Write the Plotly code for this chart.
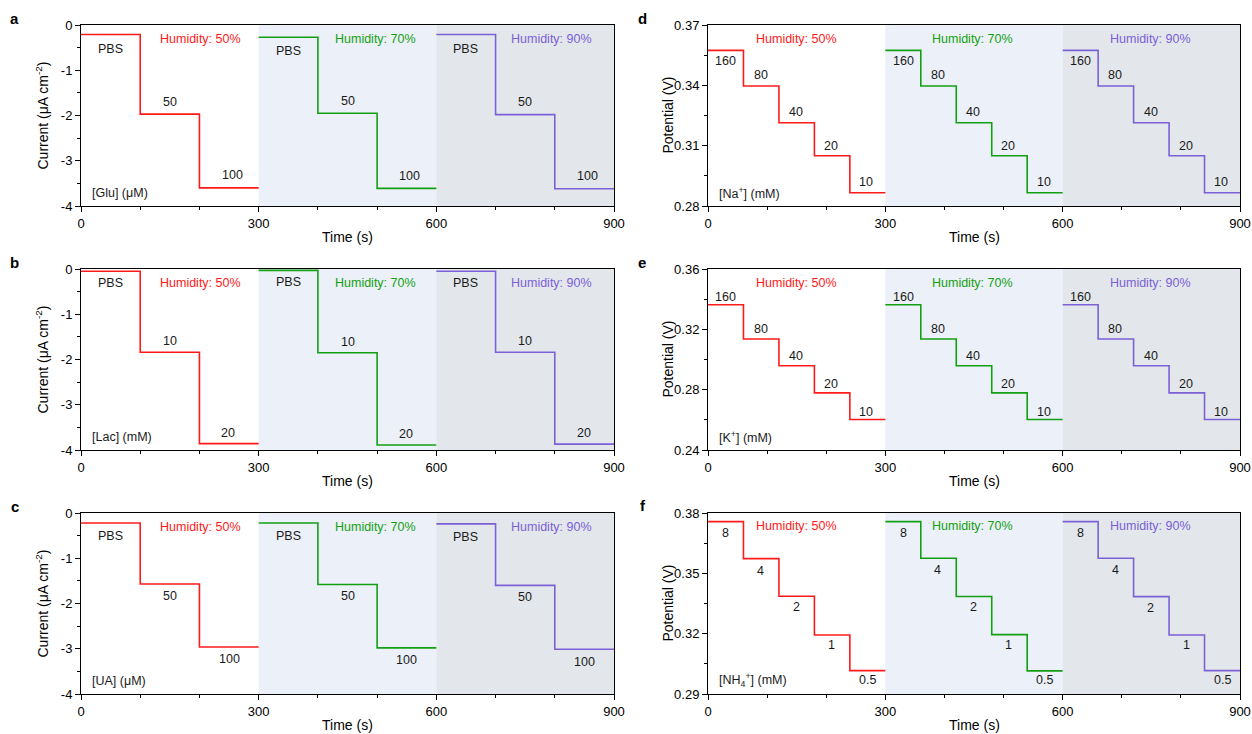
import plotly.graph_objects as go

# ---------------- data ----------------
humidity = ["Humidity: 50%", "Humidity: 70%", "Humidity: 90%"]
colors = ["#FF1A1A", "#12A012", "#7C60D8"]

time_ticks = [0, 300, 600, 900]
time_ticktext = ["0", "300", "600", "900"]

# panel a: glucose (step every 100 s)
glu_labels = ["PBS", "50", "100"]
glu_levels = [[-0.21, -1.97, -3.60], [-0.27, -1.95, -3.61], [-0.21, -1.98, -3.62]]
# panel b: lactate
lac_labels = ["PBS", "10", "20"]
lac_levels = [[-0.05, -1.84, -3.86], [-0.03, -1.85, -3.89], [-0.05, -1.84, -3.87]]
# panel c: uric acid
ua_labels = ["PBS", "50", "100"]
ua_levels = [[-0.22, -1.57, -2.96], [-0.22, -1.58, -2.98], [-0.24, -1.60, -3.01]]
current_ticks = [0, -1, -2, -3, -4]
current_ticktext = ["0", "-1", "-2", "-3", "-4"]

# panel d: sodium (step every 60 s)
na_labels = ["160", "80", "40", "20", "10"]
na_levels = [[0.3574, 0.3397, 0.3214, 0.3050, 0.2866],
             [0.3574, 0.3397, 0.3214, 0.3050, 0.2866],
             [0.3574, 0.3397, 0.3214, 0.3050, 0.2866]]
na_ticks = [0.28, 0.31, 0.34, 0.37]
na_ticktext = ["0.28", "0.31", "0.34", "0.37"]
# panel e: potassium
k_labels = ["160", "80", "40", "20", "10"]
k_levels = [[0.3363, 0.3136, 0.2959, 0.2779, 0.2602],
            [0.3363, 0.3136, 0.2959, 0.2779, 0.2602],
            [0.3363, 0.3136, 0.2959, 0.2779, 0.2602]]
k_ticks = [0.24, 0.28, 0.32, 0.36]
k_ticktext = ["0.24", "0.28", "0.32", "0.36"]
# panel f: ammonium
nh4_labels = ["8", "4", "2", "1", "0.5"]
nh4_levels = [[0.3757, 0.3573, 0.3386, 0.3193, 0.3016],
              [0.3757, 0.3575, 0.3385, 0.3195, 0.3015],
              [0.3757, 0.3575, 0.3384, 0.3193, 0.3016]]
nh4_ticks = [0.29, 0.32, 0.35, 0.38]
nh4_ticktext = ["0.29", "0.32", "0.35", "0.38"]

FONT = "Liberation Sans, Arial, sans-serif"
W, H = 1252, 734
LBL = 12.5

# panel definitions (layout, not data)
panels = [
    dict(letter="a", labels=glu_labels, levels=glu_levels, dt=100, yr=[-4, 0], ticks=current_ticks,
         ticktext=current_ticktext, minor=0.5, ytitle="Current (μA cm<sup>-2</sup>)", tshift=-39,
         unit="[Glu] (μM)", unit_y=-3.71, hum_y=-0.31, hum_x=[201, 198, 195],
         lab_x=[50, 150, 255], lab_dy=[-14, 12.5, 12.5], col=0, row=0),
    dict(letter="b", labels=lac_labels, levels=lac_levels, dt=100, yr=[-4, 0], ticks=current_ticks,
         ticktext=current_ticktext, minor=0.5, ytitle="Current (μA cm<sup>-2</sup>)", tshift=-39,
         unit="[Lac] (mM)", unit_y=-3.71, hum_y=-0.31, hum_x=[201, 198, 195],
         lab_x=[50, 150, 249], lab_dy=[-12, 11, 11], col=0, row=1),
    dict(letter="c", labels=ua_labels, levels=ua_levels, dt=100, yr=[-4, 0], ticks=current_ticks,
         ticktext=current_ticktext, minor=0.5, ytitle="Current (μA cm<sup>-2</sup>)", tshift=-39,
         unit="[UA] (μM)", unit_y=-3.71, hum_y=-0.30, hum_x=[201, 198, 195],
         lab_x=[50, 150, 250], lab_dy=[-13.5, -12, -12.5], col=0, row=2),
    dict(letter="d", labels=na_labels, levels=na_levels, dt=60, yr=[0.28, 0.37], ticks=na_ticks,
         ticktext=na_ticktext, minor=0.015, ytitle="Potential (V)", tshift=-41,
         unit="[Na<sup>+</sup>] (mM)", unit_y=0.2866, hum_y=0.363, hum_x=[150, 147, 149],
         lab_x=[30, 89, 149, 208, 268], lab_dy=[-11, 10.5, 11, 10, 11], col=1, row=0),
    dict(letter="e", labels=k_labels, levels=k_levels, dt=60, yr=[0.24, 0.36], ticks=k_ticks,
         ticktext=k_ticktext, minor=0.02, ytitle="Potential (V)", tshift=-41,
         unit="[K<sup>+</sup>] (mM)", unit_y=0.2488, hum_y=0.3505, hum_x=[150, 147, 149],
         lab_x=[30, 89, 149, 208, 268], lab_dy=[8, 9.5, 9.5, 9, 7.5], col=1, row=1),
    dict(letter="f", labels=nh4_labels, levels=nh4_levels, dt=60, yr=[0.29, 0.38], ticks=nh4_ticks,
         ticktext=nh4_ticktext, minor=0.015, ytitle="Potential (V)", tshift=-41,
         unit="[NH<sub>4</sub><sup>+</sup>] (mM)", unit_y=0.2968, hum_y=0.3733, hum_x=[150, 147, 149],
         lab_x=[30, 89, 149, 209, 270], lab_dy=[-11.5, -12, -11, -10, -9.5], col=1, row=2),
]

# pixel geometry of the plot areas
col_px = [(81, 614), (708, 1240)]
row_px = [(25, 206), (269, 450), (513, 694)]
letter_px = [[(14, 19), (14, 262), (15, 506)], [(642, 18), (642, 262), (643, 505)]]

fig = go.Figure()
layout = dict(width=W, height=H, margin=dict(l=0, r=0, t=0, b=0, autoexpand=False),
              template="none",
              paper_bgcolor="white", plot_bgcolor="white", showlegend=False,
              font=dict(family=FONT, size=13, color="black"))
shapes = []
annotations = []

for i, p in enumerate(panels):
    n = i + 1
    xa = "x" if n == 1 else f"x{n}"
    ya = "y" if n == 1 else f"y{n}"
    xkey = "xaxis" if n == 1 else f"xaxis{n}"
    ykey = "yaxis" if n == 1 else f"yaxis{n}"
    x0, x1 = col_px[p["col"]]
    y0, y1 = row_px[p["row"]]
    layout[xkey] = dict(domain=[x0 / W, x1 / W], anchor=ya, range=[0, 900], automargin=False,
                        tickvals=time_ticks, ticktext=time_ticktext,
                        ticks="outside", ticklen=5, tickcolor="black", tickwidth=1,
                        minor=dict(dtick=100, tick0=0, ticks="outside", ticklen=3, tickcolor="black"),
                        showline=True, linecolor="black", linewidth=1, mirror=True,
                        showgrid=False, zeroline=False, tickfont=dict(size=13))
    layout[ykey] = dict(domain=[1 - y1 / H, 1 - y0 / H], anchor=xa, range=p["yr"], automargin=False,
                        tickvals=p["ticks"], ticktext=p["ticktext"],
                        ticks="outside", ticklen=5, tickcolor="black", tickwidth=1,
                        minor=dict(dtick=p["minor"], tick0=p["yr"][0], ticks="outside", ticklen=3,
                                   tickcolor="black"),
                        showline=True, linecolor="black", linewidth=1, mirror=True,
                        showgrid=False, zeroline=False, tickfont=dict(size=13))
    # shaded humidity regions
    for (sx0, sx1, sc) in [(300, 600, "#ECF0F8"), (600, 900, "#E3E7EB")]:
        shapes.append(dict(type="rect", xref=xa, yref=f"{ya} domain", x0=sx0, x1=sx1, y0=0, y1=1,
                           fillcolor=sc, line=dict(width=0), layer="below"))
    dt = p["dt"]
    for k in range(3):
        lv = p["levels"][k]
        start = 300 * k
        xs = [start + j * dt for j in range(len(lv))] + [start + 300]
        ys = lv + [lv[-1]]
        fig.add_trace(go.Scatter(x=xs, y=ys, mode="lines", line=dict(color=colors[k], width=1.6, shape="hv"),
                                 xaxis=xa, yaxis=ya, hoverinfo="skip"))
        # concentration labels
        for j, lab in enumerate(p["labels"]):
            annotations.append(dict(x=start + p["lab_x"][j], y=lv[j], xref=xa, yref=ya, text=lab,
                                    showarrow=False, yshift=p["lab_dy"][j],
                                    font=dict(size=LBL, color="#1a1a1a", family=FONT)))
        # humidity labels
        annotations.append(dict(x=start + p["hum_x"][k], y=p["hum_y"], xref=xa, yref=ya, text=humidity[k],
                                showarrow=False, font=dict(size=LBL, color=colors[k], family=FONT)))
    # unit label
    annotations.append(dict(x=15, y=p["unit_y"], xref=xa, yref=ya, text=p["unit"], xanchor="left",
                            showarrow=False, font=dict(size=LBL, color="#1a1a1a", family=FONT)))
    # axis titles
    annotations.append(dict(x=0.5, y=0, xref=f"{xa} domain", yref=f"{ya} domain", text="Time (s)",
                            showarrow=False, yanchor="middle", yshift=-31,
                            font=dict(size=14, color="black", family=FONT)))
    annotations.append(dict(x=0, y=0.5, xref=f"{xa} domain", yref=f"{ya} domain", text=p["ytitle"],
                            showarrow=False, xanchor="center", xshift=p["tshift"], textangle=-90,
                            font=dict(size=14, color="black", family=FONT)))
    # panel letter
    lx, ly = letter_px[p["col"]][p["row"]]
    annotations.append(dict(x=lx / W, y=1 - ly / H, xref="paper", yref="paper", text="<b>" + p["letter"] + "</b>",
                            showarrow=False, xanchor="center", yanchor="middle",
                            font=dict(size=15, color="black", family=FONT)))

layout["shapes"] = shapes
layout["annotations"] = annotations
fig.update_layout(**layout)
fig.write_html("out.html", config={"displayModeBar": False},
               post_script="document.body.style.margin='0';document.body.style.overflow='hidden';")
